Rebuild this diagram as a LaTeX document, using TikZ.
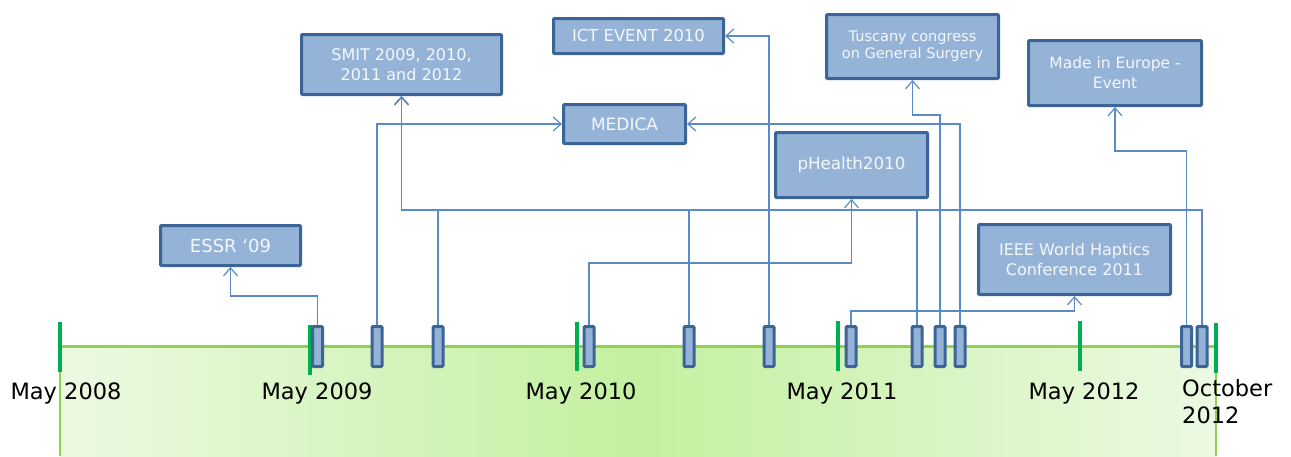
\documentclass[tikz,border=0pt]{standalone}
\usepackage{fontspec}
\setmainfont{DejaVu Sans}
\usetikzlibrary{arrows.meta}
\definecolor{boxfill}{HTML}{95B3D7}
\definecolor{boxline}{HTML}{3B6497}
\definecolor{boxtext}{HTML}{F4F7FC}
\definecolor{wire}{HTML}{5B8BC6}
\definecolor{tickgreen}{HTML}{00B050}
\definecolor{bargreen}{HTML}{92D050}
\definecolor{shadeedge}{HTML}{EBF9E2}
\definecolor{shademid}{HTML}{C4F0A0}

\begin{document}
\begin{tikzpicture}[x=1pt,y=-1pt,
  event/.style={draw=boxline, fill=boxfill, line width=3pt, text=boxtext,
    align=center, inner sep=0pt, rounded corners=1pt},
  marker/.style={draw=boxline, fill=boxfill, line width=3pt,
    minimum width=10pt, minimum height=40pt, inner sep=0pt, rounded corners=1pt},
  tickmark/.style={draw=tickgreen, line width=4pt},
  conn/.style={draw=wire, line width=1.2pt},
  arr/.style={conn, -{Straight Barb[length=8pt,width=14pt]}},
  datelabel/.style={anchor=base, font=\fontsize{22.5}{27}\selectfont, text=black, inner sep=0pt},
]
\useasboundingbox (0,0) rectangle (1291,456);

% timeline band
\shade[left color=shadeedge, right color=shadeedge, middle color=shademid]
  (60,346) rectangle (1216,456);
\draw[bargreen, line width=3pt] (60,346) -- (1216,346);
\draw[bargreen, line width=2.5pt] (60,346) -- (60,456);
\draw[bargreen, line width=2.5pt] (1216,346) -- (1216,456);

% year ticks
\draw[tickmark] (60,322) -- (60,372);
\draw[tickmark] (310,325) -- (310,375);
\draw[tickmark] (577,322) -- (577,371);
\draw[tickmark] (838,321) -- (838,371);
\draw[tickmark] (1080,321) -- (1080,371);
\draw[tickmark] (1216,323) -- (1216,373);

% date labels
\node[datelabel] (d08) at (66,399) {May 2008};
\node[datelabel] (d09) at (317,399) {May 2009};
\node[datelabel] (d10) at (581,399) {May 2010};
\node[datelabel] (d11) at (842,399) {May 2011};
\node[datelabel] (d12) at (1084,399) {May 2012};
\node[anchor=north west, font=\fontsize{22.5}{27}\selectfont, align=left, inner sep=0pt]
  (d12b) at (1182,379) {October\\2012};

% event boxes
\node[event, minimum width=140pt, minimum height=40pt, font=\fontsize{18}{21}\selectfont]
  (essr) at (230.5,245.5) {ESSR ‘09};
\node[event, minimum width=200pt, minimum height=60pt, font=\fontsize{16}{20}\selectfont]
  (smit) at (401.5,64.5) {SMIT 2009, 2010,\\2011 and 2012};
\node[event, minimum width=170pt, minimum height=35pt, font=\fontsize{16.4}{20}\selectfont]
  (ict) at (638.5,36) {ICT EVENT 2010};
\node[event, minimum width=122pt, minimum height=39pt, font=\fontsize{17}{20}\selectfont]
  (medica) at (624.5,124) {MEDICA};
\node[event, minimum width=152pt, minimum height=65pt, font=\fontsize{16.7}{20}\selectfont]
  (phealth) at (851.5,165) {pHealth2010};
\node[event, minimum width=172pt, minimum height=64pt, font=\fontsize{14.5}{17}\selectfont]
  (tuscany) at (912.5,46.5) {Tuscany congress\\on General Surgery};
\node[event, minimum width=173pt, minimum height=65pt, font=\fontsize{15.5}{20}\selectfont]
  (europe) at (1115,73) {Made in Europe -\\Event};
\node[event, minimum width=192pt, minimum height=70pt, font=\fontsize{16}{20}\selectfont]
  (ieee) at (1074.5,259.5) {IEEE World Haptics\\Conference 2011};

% event positions on the timeline
\foreach \n/\x in {1/317.5, 2/377, 3/438, 4/589, 5/689, 6/769, 7/851,
                   8/917, 9/940, 10/960, 11/1186.5, 12/1202}
  \coordinate (p\n) at (\x,346.5);

% connectors
\draw[arr] (p1 |- 0,326) |- (essr.south |- 0,296) -- (essr.south);
\draw[arr] (p2 |- 0,326) |- (medica.west);
\draw[arr] (p3 |- 0,326) |- (smit.south |- 0,210) -- (smit.south);
\draw[arr] (p4 |- 0,326) |- (phealth.south |- 0,263) -- (phealth.south);
\draw[arr] (p5 |- 0,326) |- (smit.south |- 0,210) -- (smit.south);
\draw[arr] (p6 |- 0,326) |- (ict.east);
\draw[arr] (p7 |- 0,326) |- (ieee.south |- 0,311) -- (ieee.south);
\draw[arr] (p8 |- 0,326) |- (smit.south |- 0,210) -- (smit.south);
\draw[arr] (p9 |- 0,326) |- (tuscany.south |- 0,115) -- (tuscany.south);
\draw[arr] (p10 |- 0,326) |- (medica.east);
\draw[arr] (p11 |- 0,326) |- (europe.south |- 0,151) -- (europe.south);
\draw[arr] (p12 |- 0,326) |- (smit.south |- 0,210) -- (smit.south);

% event markers
\foreach \n in {1,...,12}
  \node[marker] (m\n) at (p\n) {};
\end{tikzpicture}
\end{document}
